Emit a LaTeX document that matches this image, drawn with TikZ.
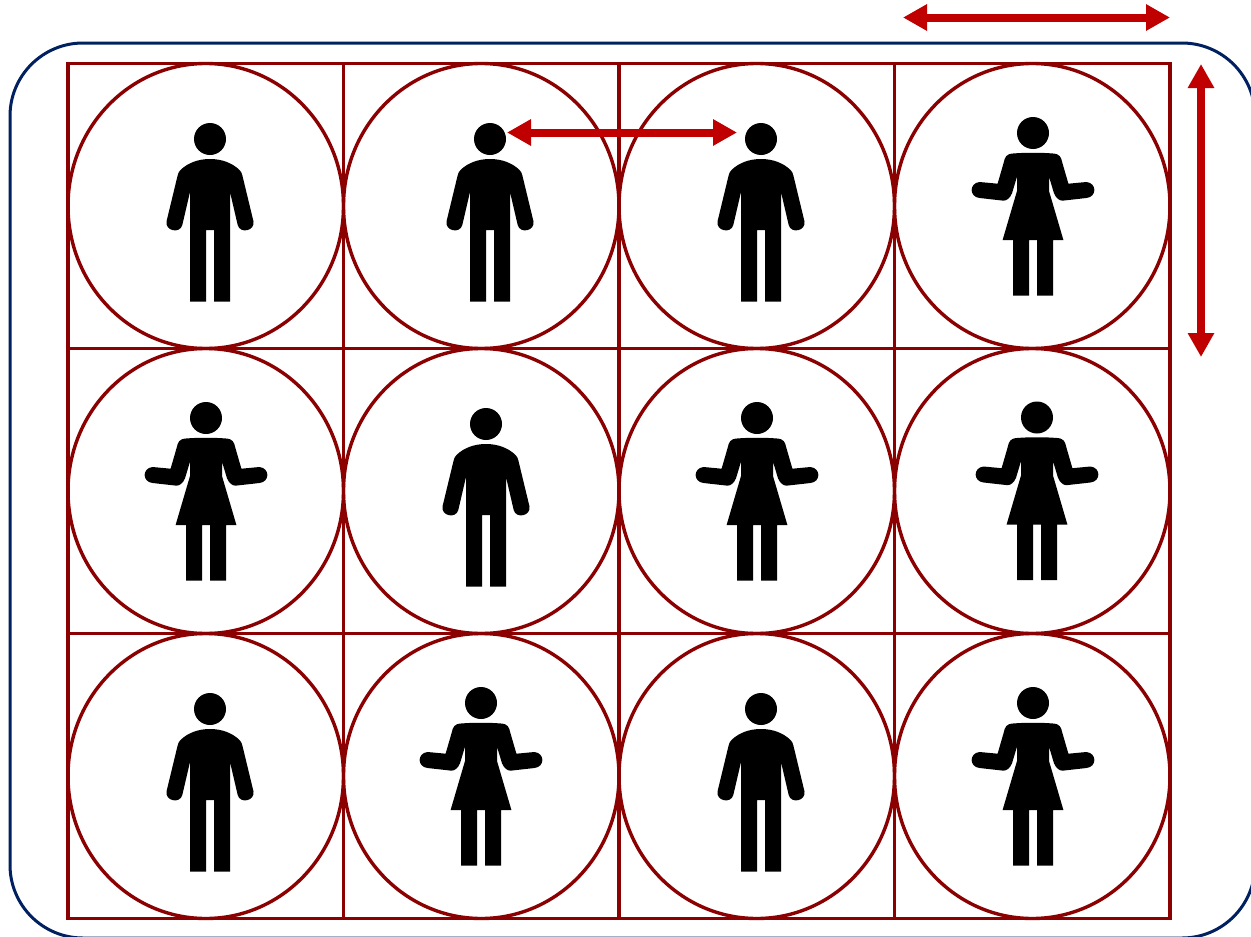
\documentclass[tikz,border=0pt]{standalone}
\usepackage{xcolor}
\usetikzlibrary{arrows.meta,shapes.geometric}
\definecolor{navy}{HTML}{002060}
\definecolor{maroon}{HTML}{8B0000}
\definecolor{signal}{HTML}{C00000}

\begin{document}
\begin{tikzpicture}[
  x=1pt,y=-1pt,
  frame/.style={draw=navy,line width=3pt,rounded corners=73pt,minimum width=1245pt,minimum height=895pt,inner sep=0pt},
  cell/.style={draw=maroon,line width=3.4pt,minimum width=275.5pt,minimum height=285pt,inner sep=0pt,outer sep=0pt},
  disc/.style={ellipse,draw=maroon,line width=3.4pt,minimum width=275.5pt,minimum height=285pt,inner sep=0pt,outer sep=0pt},
  arrow/.style={{Triangle[length=24pt,width=25pt]}-{Triangle[length=24pt,width=25pt]},draw=signal,line width=8pt},
  man/.pic={
    \fill (0,0) circle (16);
    \fill (-20,162.5) -- (-4,162.5) -- (-4,91) -- (4,91) -- (4,162.5) -- (20,162.5) -- (20,53)
      -- (27.7,86) .. controls (30,95) and (45,92) .. (43.5,82.5)
      -- (32.5,37) .. controls (31.5,33) and (30.5,32) .. (29,30.5)
      .. controls (22,24) and (12,20) .. (0,20)
      .. controls (-12,20) and (-22,24) .. (-29,30.5)
      .. controls (-30.5,32) and (-31.5,33) .. (-32.5,37)
      -- (-43.5,82.5) .. controls (-45,92) and (-30,95) .. (-27.7,86)
      -- (-20,53) -- cycle;
  },
  woman/.pic={
    \fill (0,0) circle (16);
    \fill (-20,162.5) -- (-4,162.5) -- (-4,107) -- (4,107) -- (4,162.5) -- (20,162.5) -- (20,107)
      -- (30.4,107) -- (16,58) -- (16,43.7)
      -- (21,60.3) .. controls (23,65) and (26,67.5) .. (29.4,67.7)
      -- (53.4,65) .. controls (64,64) and (64,50) .. (53.4,49)
      -- (35.4,50.7) -- (29.4,30) .. controls (28,24) and (27,21) .. (20,20.5)
      .. controls (8,19.5) and (-8,19.5) .. (-20,20.5)
      .. controls (-27,21) and (-28,24) .. (-29.4,30)
      -- (-35.4,50.7) -- (-53.4,49) .. controls (-64,50) and (-64,64) .. (-53.4,65)
      -- (-29.4,67.7) .. controls (-26,67.5) and (-23,65) .. (-21,60.3)
      -- (-16,43.7) -- (-16,58) -- (-30.4,107) -- (-20,107) -- cycle;
  }
]
\useasboundingbox (0,0) rectangle (1251,937);
\clip (0,0) rectangle (1251,937);
\node[frame] (outer) at (632.5,490.5) {};
% grid and circles
\foreach \r/\cy in {1/206,2/491,3/776}
  \foreach \c/\cx in {1/205.75,2/481.25,3/756.75,4/1032.25} {
    \node[cell] (cell\r\c) at (\cx,\cy) {};
    \node[disc] (disc\r\c) at (\cx,\cy) {};
  }
% people
\foreach \hx/\hy in {210/139,490/139,761/139,486/424,210/709,761/709}
  \pic at (\hx,\hy) {man};
\foreach \hx/\hy in {1033/133,206/418,757/418,1037/417.5,481/703,1033/703}
  \pic at (\hx,\hy) {woman};
% arrows
\coordinate (topl) at (903,17.5);
\coordinate (topr) at (1170,17.5);
\coordinate (midl) at (507,132.5);
\coordinate (midr) at (737,132.5);
\coordinate (sidet) at (1201,64);
\coordinate (sideb) at (1201,357);
\draw[arrow] (topl)--(topr);
\draw[arrow] (midl)--(midr);
\draw[arrow] (sidet)--(sideb);
\end{tikzpicture}
\end{document}
